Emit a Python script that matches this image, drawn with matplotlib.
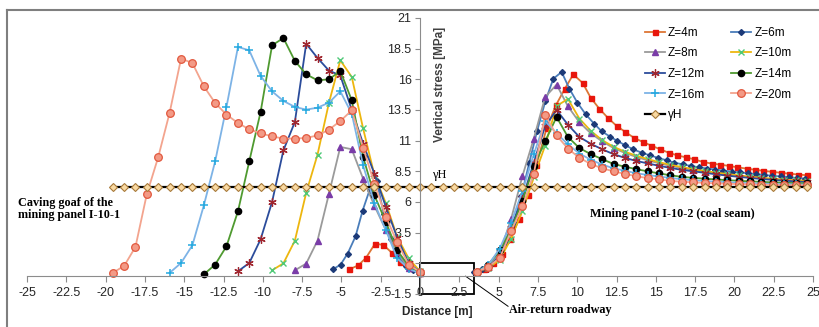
import matplotlib.pyplot as plt
from matplotlib.lines import Line2D
from matplotlib.patches import Rectangle

plt.rcParams['font.family'] = ['Liberation Sans', 'DejaVu Sans']

# distance grid [m] shared by most profiles and the gamma*H line
x_grid = [-19.55, -18.82, -18.10, -17.38, -16.65, -15.93, -15.20, -14.48, -13.75, -13.03,
          -12.31, -11.58, -10.86, -10.14, -9.41, -8.69, -7.96, -7.24, -6.52, -5.79,
          -5.07, -4.34, -3.62, -2.90, -2.17, -1.45, -0.72, 0.00, 0.72, 1.45,
          2.17, 2.90, 3.62, 4.34, 5.07, 5.79, 6.52, 7.24, 7.96, 8.69,
          9.41, 10.14, 10.86, 11.58, 12.31, 13.03, 13.75, 14.48, 15.20, 15.93,
          16.65, 17.38, 18.10, 18.82, 19.55, 20.27, 21.00, 21.72, 22.44, 23.17,
          23.89, 24.62]
gh_value = 7.2

# Z=4m and Z=6m have their own spacing
z4_xl = [-4.49, -3.92, -3.44, -2.86, -2.33, -1.8, -1.27, -0.64, 0.0]
z4_yl = [0.51, 0.84, 1.44, 2.6, 2.5, 1.87, 1.12, 0.63, 0.2]
z4_xr = [3.55, 4.1, 4.65, 5.2, 5.75, 6.3, 6.85, 7.4, 8.05, 8.65,
         9.2, 9.75, 10.35, 10.86, 11.41, 11.96, 12.51, 13.06, 13.63, 14.17,
         14.71, 15.27, 15.82, 16.37, 16.92, 17.45, 17.98, 18.56, 19.08, 19.66,
         20.19, 20.78, 21.3, 21.85, 22.4, 22.95, 23.5, 24.05, 24.6]
z4_yr = [0.3, 0.55, 1.0, 1.8, 3.0, 4.6, 6.6, 9.0, 12.0, 13.9,
         15.2, 16.4, 15.7, 14.5, 13.6, 12.85, 12.2, 11.71, 11.22, 10.9,
         10.6, 10.3, 10.02, 9.8, 9.64, 9.48, 9.27, 9.13, 9.05, 8.94,
         8.83, 8.72, 8.63, 8.54, 8.46, 8.38, 8.31, 8.24, 8.18]

z6_xl = [-5.55, -5.05, -4.6, -4.1, -3.65, -3.2, -2.75, -2.3, -1.85, -1.4, -0.9, -0.45, 0.0]
z6_yl = [0.5, 0.9, 1.8, 3.2, 5.3, 7.0, 7.7, 5.0, 3.0, 1.6, 0.8, 0.45, 0.3]
z6_xr = [3.45, 3.95, 4.45, 4.95, 5.45, 5.95, 6.45, 6.95, 7.45, 7.97,
         8.48, 9.01, 9.5, 10.01, 10.54, 11.07, 11.56, 12.09, 12.55, 13.06,
         13.57, 14.1, 14.63, 15.16, 15.69, 16.16, 16.71, 17.22, 17.74, 18.26,
         18.78, 19.3, 19.82, 20.34, 20.86, 21.38, 21.9, 22.42, 22.94, 23.46,
         23.98, 24.5]
z6_yr = [0.3, 0.5, 0.9, 1.6, 2.7, 4.3, 6.5, 9.2, 11.8, 14.2,
         16.05, 16.6, 15.24, 14.1, 13.15, 12.39, 11.76, 11.33, 10.98, 10.62,
         10.29, 10.02, 9.8, 9.59, 9.4, 9.21, 9.07, 8.94, 8.83, 8.73,
         8.64, 8.56, 8.48, 8.41, 8.34, 8.27, 8.2, 8.14, 8.08, 8.02,
         7.96, 7.9]

# the other profiles: left part ends at x=0 (grid index 27), right part starts at 3.62 (index 32)
z8_start = 16
z8_yl = [0.43, 0.98, 2.85, 6.68, 10.49, 10.3, 7.9, 5.7, 3.7, 1.9, 0.6, 0.2]
z8_yr = [0.3, 0.7, 1.8, 4.6, 8.13, 11.17, 14.56, 15.57, 13.8, 12.5,
         11.6, 10.95, 10.4, 10.0, 9.68, 9.4, 9.16, 8.95, 8.77, 8.6,
         8.45, 8.32, 8.2, 8.1, 8.0, 7.92, 7.84, 7.78, 7.72, 7.67]

z10_start = 14
z10_yl = [0.43, 1.0, 2.85, 6.75, 9.86, 14.1, 17.55, 16.19, 12.0, 8.2, 5.9, 3.15, 1.4, 0.35]
z10_yr = [0.3, 0.6, 1.3, 3.0, 5.3, 8.0, 10.6, 13.83, 14.4, 12.8,
          11.8, 11.05, 10.5, 10.1, 9.78, 9.5, 9.25, 9.03, 8.85, 8.68,
          8.53, 8.4, 8.28, 8.17, 8.07, 7.98, 7.9, 7.83, 7.77, 7.72]

z12_start = 11
z12_yl = [0.35, 1.03, 2.96, 6.0, 10.21, 12.52, 18.9, 17.74, 16.71, 16.32,
          13.5, 10.76, 8.3, 5.6, 3.1, 1.0, 0.3]
z12_yr = [0.3, 0.65, 1.6, 3.9, 6.3, 9.2, 12.2, 13.5, 12.3, 11.3,
          10.75, 10.3, 9.9, 9.6, 9.35, 9.15, 8.95, 8.78, 8.62, 8.5,
          8.38, 8.26, 8.15, 8.05, 7.96, 7.88, 7.8, 7.74, 7.68, 7.63]

z14_start = 8
z14_yl = [0.1, 0.9, 2.39, 5.24, 9.32, 13.34, 18.77, 19.37, 17.5, 16.41,
          15.92, 16.0, 16.68, 14.29, 9.67, 6.54, 4.37, 2.06, 0.79, 0.2]
z14_yr = [0.3, 0.9, 2.05, 3.7, 6.1, 8.9, 10.95, 12.93, 11.3, 10.4,
          9.9, 9.5, 9.1, 8.88, 8.68, 8.5, 8.33, 8.18, 8.05, 7.97,
          7.9, 7.84, 7.78, 7.73, 7.68, 7.64, 7.6, 7.57, 7.54, 7.52]

z16_start = 5
z16_yl = [0.22, 1.03, 2.47, 5.73, 9.32, 13.75, 18.64, 18.36, 16.28, 15.02,
          14.24, 13.75, 13.53, 13.69, 14.1, 15.02, 13.2, 9.0, 5.9, 3.7,
          1.4, 0.57, 0.16]
z16_yr = [0.3, 0.85, 2.2, 4.3, 6.9, 9.9, 12.6, 11.6, 10.7, 9.95,
          9.45, 9.05, 8.75, 8.55, 8.35, 8.2, 8.08, 7.96, 7.86, 7.78,
          7.71, 7.66, 7.61, 7.57, 7.53, 7.5, 7.47, 7.45, 7.43, 7.42]

z20_start = 0
z20_yl = [0.22, 0.79, 2.34, 6.63, 9.67, 13.26, 17.69, 17.33, 15.43, 14.07,
          13.12, 12.44, 11.92, 11.6, 11.35, 11.17, 11.17, 11.22, 11.43, 11.9,
          12.6, 13.47, 10.43, 7.5, 4.8, 2.7, 0.9, 0.3]
z20_yr = [0.3, 0.71, 1.44, 3.61, 5.65, 8.31, 13.12, 11.43, 10.35, 9.6,
          9.1, 8.75, 8.5, 8.3, 8.1, 7.95, 7.85, 7.72, 7.65, 7.6,
          7.56, 7.52, 7.49, 7.46, 7.43, 7.41, 7.39, 7.37, 7.36, 7.35]

fig = plt.figure(figsize=(8.19, 3.27), dpi=100)
ax = fig.add_axes([27/819, 1 - 294/327, 786/819, 276/327])

styles = {
    'Z=4m':  dict(color='#DD7534', marker='s', ms=3.6, mfc='#E8160C', mec='#E8160C'),
    'Z=6m':  dict(color='#4A7DBA', marker='D', ms=3.0, mfc='#1C3A78', mec='#1C3A78'),
    'Z=8m':  dict(color='#9A9A9A', marker='^', ms=4.5, mfc='#7A3CA8', mec='#7A3CA8'),
    'Z=10m': dict(color='#EDB60E', marker='x', ms=5, mfc='#4FC978', mec='#4FC978', mew=1.0),
    'Z=12m': dict(color='#2B4C9B', marker=(6, 2, 0), ms=6, mfc='#A0262F', mec='#A0262F', mew=0.9),
    'Z=14m': dict(color='#4F9A30', marker='o', ms=4.5, mfc='black', mec='black'),
    'Z=16m': dict(color='#7DB3E6', marker='+', ms=6, mfc='#25A9E0', mec='#25A9E0', mew=1.1),
    'Z=20m': dict(color='#F3A48E', marker='o', ms=5.5, mfc='#F39A86', mec='#E2583E', mew=0.9),
}

handles = {}

def draw(name, xl, yl, xr, yr):
    st = styles[name]
    h, = ax.plot(xl, yl, lw=1.3, label=name, **st)
    ax.plot(xr, yr, lw=1.3, **st)
    handles[name] = h

draw('Z=4m', z4_xl, z4_yl, z4_xr, z4_yr)
draw('Z=6m', z6_xl, z6_yl, z6_xr, z6_yr)
draw('Z=8m', x_grid[z8_start:28], z8_yl, x_grid[32:], z8_yr)
draw('Z=10m', x_grid[z10_start:28], z10_yl, x_grid[32:], z10_yr)
draw('Z=12m', x_grid[z12_start:28], z12_yl, x_grid[32:], z12_yr)
draw('Z=14m', x_grid[z14_start:28], z14_yl, x_grid[32:], z14_yr)
draw('Z=16m', x_grid[z16_start:28], z16_yl, x_grid[32:], z16_yr)
draw('Z=20m', x_grid[z20_start:28], z20_yl, x_grid[32:], z20_yr)

gh, = ax.plot(x_grid, [gh_value] * len(x_grid), color='black', lw=1.6,
              marker='D', ms=3.6, mfc='#F9D9A2', mec='#A87A3A', mew=0.8, label='γH')

ax.set_xlim(-25, 25)
ax.set_ylim(-1.5, 21)
ax.set_xticks([-25 + 2.5 * i for i in range(21)])
ax.set_xticklabels(['-25', '-22.5', '-20', '-17.5', '-15', '-12.5', '-10', '-7.5', '-5', '-2.5',
                    '0', '2.5', '5', '7.5', '10', '12.5', '15', '17.5', '20', '22.5', '25'])
ax.set_yticks([-1.5 + 2.5 * i for i in range(10)])
ax.set_yticklabels(['-1.5', '1', '3.5', '6', '8.5', '11', '13.5', '16', '18.5', '21'])

for s in ['top', 'right']:
    ax.spines[s].set_visible(False)
ax.spines['bottom'].set_position(('data', 0))
ax.spines['left'].set_position(('data', 0))
ax.spines['bottom'].set_color('#8C8C8C')
ax.spines['left'].set_color('#8C8C8C')
ax.tick_params(axis='x', direction='out', length=4, color='#8C8C8C', pad=4.5,
               labelsize=9, labelcolor='#262626')
ax.tick_params(axis='y', direction='out', length=3.5, color='#8C8C8C', pad=2.5,
               labelsize=9, labelcolor='#262626')
ax.patch.set_visible(False)

ax.text(1.27, 15.57, 'Vertical stress [MPa]', rotation=90, ha='center', va='center',
        fontsize=8.5, fontweight='bold', color='#404040')
ax.text(1.08, -3.0, 'Distance [m]', ha='center', va='center', fontsize=8.5,
        fontweight='bold', color='#262626', clip_on=False)

serif = ['Liberation Serif', 'DejaVu Serif']
ax.text(-25.6, 5.42, 'Caving goaf of the\nmining panel I-10-1', ha='left', va='center',
        fontsize=8.7, fontweight='bold', family=serif, linespacing=1.05, clip_on=False)
ax.text(16.03, 5.05, 'Mining panel I-10-2 (coal seam)', ha='center', va='center',
        fontsize=8.7, fontweight='bold', family=serif)
ax.text(0.76, 8.2, 'γH', ha='left', va='center', fontsize=9, family=serif)

ax.add_patch(Rectangle((0, -1.5), 3.45, 2.5, fill=False, ec='black', lw=1.3, clip_on=False))
ax.plot([2.9, 5.6], [-0.05, -2.5], color='black', lw=0.7, clip_on=False)
ax.text(5.66, -2.77, 'Air-return roadway', ha='left', va='center', fontsize=8.7,
        fontweight='bold', family=serif, clip_on=False)

order = ['Z=4m', 'Z=8m', 'Z=12m', 'Z=16m', None, 'Z=6m', 'Z=10m', 'Z=14m', 'Z=20m']
leg_h = [handles[n] if n else gh for n in order]
leg_l = [n if n else 'γH' for n in order]
fig.legend(leg_h, leg_l, loc='upper left', bbox_to_anchor=(645/819, 1 - 27/327),
           ncol=2, frameon=False, fontsize=8.5, handlelength=1.7, handletextpad=0.25,
           columnspacing=2.2, labelspacing=0.72, borderpad=0, borderaxespad=0)

# outer chart border (top and left edges visible)
fig.add_artist(Line2D([7/819, 1], [1 - 10/327, 1 - 10/327], color='#7F7F7F', lw=1.5))
fig.add_artist(Line2D([7/819, 7/819], [0, 1 - 10/327], color='#7F7F7F', lw=1.5))

fig.savefig('out.png', dpi=100)
